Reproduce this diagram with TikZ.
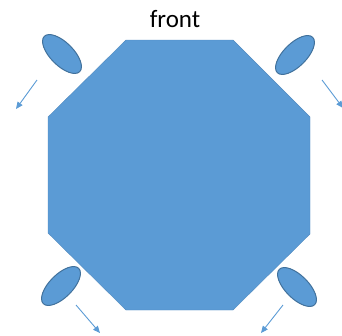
\documentclass[tikz,border=0pt]{standalone}
\usepackage{fontspec}
\setmainfont{Carlito}
\usetikzlibrary{shapes.geometric,arrows.meta}
\definecolor{ofblue}{HTML}{5B9BD5}
\definecolor{ofdark}{HTML}{41719C}
\tikzset{
  oct/.style={fill=ofblue,draw=ofblue!90!black,line width=0.4pt},
  wheel/.style={ellipse,fill=ofblue,draw=ofdark,line width=1pt,minimum width=50pt,minimum height=23pt,inner sep=0pt},
  mv/.style={draw=ofblue,line width=0.9pt,-{Triangle[length=7pt,width=6pt]}},
  lbl/.style={font=\fontsize{25}{28}\selectfont,text=black,inner sep=0pt}
}
\begin{document}
\begin{tikzpicture}[x=1pt,y=-1pt]
\useasboundingbox (0,0) rectangle (342,335);
\fill[oct] (126,40) -- (233,40) -- (310,117) -- (310,234) -- (233,310) -- (126,310) -- (48,233) -- (48,117) -- cycle;
\node[lbl,anchor=base] (front) at (175,27) {front};
\node[wheel,rotate=-45] (w1) at (62,54) {};
\node[wheel,rotate=45] (w2) at (295,55) {};
\node[wheel,rotate=45] (w3) at (61,286) {};
\node[wheel,rotate=-45] (w4) at (297,287) {};
\coordinate (a1s) at (37,80); \coordinate (a1e) at (16,109);
\coordinate (a2s) at (322,80); \coordinate (a2e) at (343,108);
\coordinate (a3s) at (76,305); \coordinate (a3e) at (100,333);
\coordinate (a4s) at (283,305); \coordinate (a4e) at (261,333);
\draw[mv] (a1s) -- (a1e);
\draw[mv] (a2s) -- (a2e);
\draw[mv] (a3s) -- (a3e);
\draw[mv] (a4s) -- (a4e);
\end{tikzpicture}
\end{document}
